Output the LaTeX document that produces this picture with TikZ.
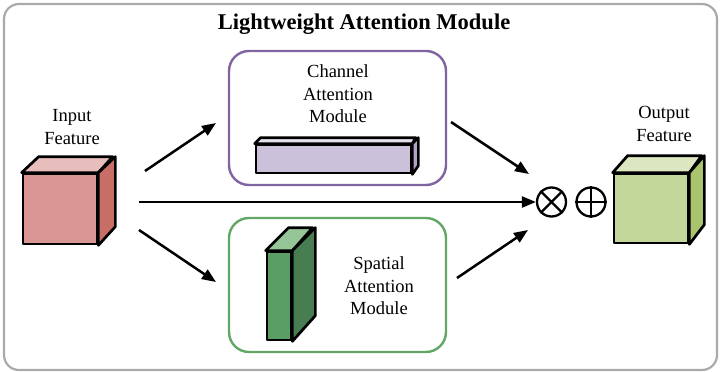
\documentclass[tikz,border=0pt]{standalone}
\usepackage{fontspec}
\setmainfont{Liberation Serif}
\usetikzlibrary{arrows.meta}
\definecolor{inF}{HTML}{D99694}
\definecolor{inT}{HTML}{E8BEBC}
\definecolor{inS}{HTML}{C86E66}
\definecolor{chF}{HTML}{CCC1DA}
\definecolor{chT}{HTML}{E5E0EC}
\definecolor{chS}{HTML}{B3A2C7}
\definecolor{spF}{HTML}{5A9E64}
\definecolor{spT}{HTML}{96C598}
\definecolor{spS}{HTML}{477D50}
\definecolor{ouF}{HTML}{C4D79B}
\definecolor{ouT}{HTML}{DCE7C2}
\definecolor{ouS}{HTML}{A9C46C}
\definecolor{purp}{HTML}{8064A2}
\definecolor{grn}{HTML}{62A864}
\definecolor{frm}{HTML}{AAAAAA}
\newcommand\mycube[9]{%
  \node[face, fill=#6, minimum width=#3pt, minimum height=#4pt] (#1) at (#2) {};
  \draw[edge, fill=#7] (#1.north west) -- ++(#5,-#9) -- ++(#3,0) -- (#1.north east) -- cycle;
  \draw[edge, fill=#8] (#1.north east) -- ++(#5,-#9) -- ++(0,#4) -- (#1.south east) -- cycle;
}
\begin{document}
\begin{tikzpicture}[x=1pt,y=-1pt,
  face/.style={draw=black, line width=2.7pt, inner sep=0pt, rectangle, line join=round},
  edge/.style={draw=black, line width=2.7pt, line join=round},
  frame/.style={draw=frm, line width=2.2pt, rounded corners=15pt},
  modbox/.style={line width=2.4pt, rounded corners=20pt},
  lbl/.style={font=\fontsize{18.5}{22.5}\selectfont, align=center, inner sep=0pt},
  arr/.style={line width=2.5pt, -{Triangle[length=14pt,width=11pt]}},
  op/.style={circle, draw=black, line width=2.3pt, minimum size=29pt, inner sep=0pt}]
\useasboundingbox (0,0) rectangle (720,372);
\draw[frame] (4,4) rectangle (717,370);
\node[font=\fontsize{22.5}{27}\selectfont\bfseries, inner sep=0pt] (title) at (364,24) {Lightweight Attention Module};

% module boxes
\draw[modbox, draw=purp] (229,51) rectangle (446,185);
\draw[modbox, draw=grn] (229,218) rectangle (446,352);

% cubes
\mycube{inC}{60,209}{74}{70}{17}{inF}{inT}{inS}{16}
\mycube{ouC}{651,208.5}{74}{69}{15}{ouF}{ouT}{ouS}{17}
\mycube{chB}{333.5,159}{155}{28}{6}{chF}{chT}{chS}{6}
\mycube{spB}{279,296}{24}{88}{23}{spF}{spT}{spS}{23}

% labels
\node[lbl] (inL) at (72,127) {Input\\Feature};
\node[lbl] (ouL) at (664,124) {Output\\Feature};
\node[lbl] (chL) at (338,94) {Channel\\Attention\\Module};
\node[lbl] (spL) at (379,286) {Spatial\\Attention\\Module};

% operators
\node[op] (mul) at (551.5,202) {};
\draw[line width=2.3pt] (mul.north east) -- (mul.south west) (mul.north west) -- (mul.south east);
\node[op] (add) at (591,202) {};
\draw[line width=2.3pt] (add.north) -- (add.south) (add.west) -- (add.east);

% arrows
\coordinate (a1s) at (145,171); \coordinate (a1e) at (216,123);
\coordinate (a2s) at (139,202);
\coordinate (a3s) at (139,230); \coordinate (a3e) at (216,282);
\coordinate (a4s) at (451,122); \coordinate (a4e) at (529,174);
\coordinate (a5s) at (457,278); \coordinate (a5e) at (528,230);
\draw[arr] (a1s) -- (a1e);
\draw[arr] (a2s) -- (mul.west);
\draw[arr] (a3s) -- (a3e);
\draw[arr] (a4s) -- (a4e);
\draw[arr] (a5s) -- (a5e);
\end{tikzpicture}
\end{document}
